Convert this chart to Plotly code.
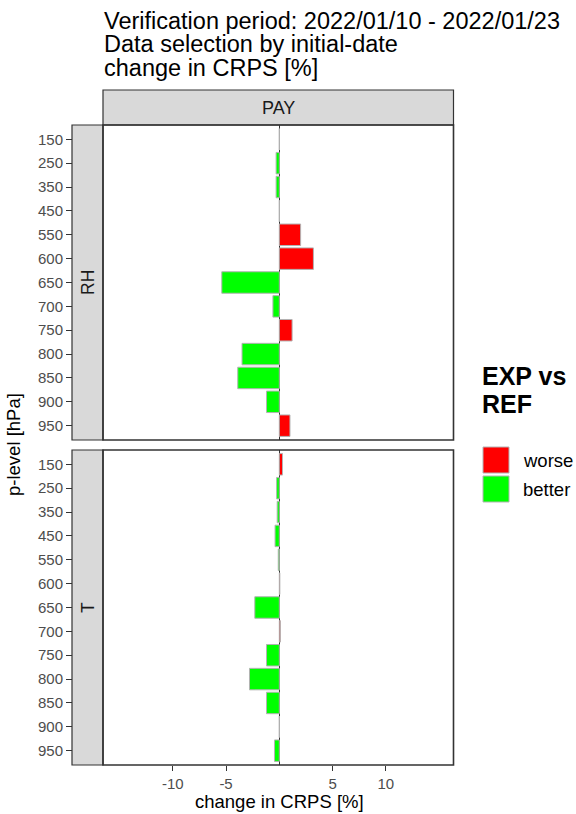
import plotly.graph_objects as go

# ---------------- data ----------------
levels = ["150", "250", "350", "450", "550", "600", "650",
          "700", "750", "800", "850", "900", "950"]
rh_change = [0.0, -0.3, -0.3, 0.0, 2.0, 3.2, -5.4, -0.6, 1.2, -3.5, -3.9, -1.2, 1.0]
t_change = [0.3, -0.25, -0.2, -0.4, -0.1, 0.05, -2.3, 0.1, -1.2, -2.8, -1.2, 0.0, -0.45]
x_ticks = [-10, -5, 5, 10]
x_tick_labels = ["-10", "-5", "5", "10"]
panels = ["RH", "T"]
column = "PAY"
legend_labels = ["worse", "better"]
colors = {"worse": "#FF0000", "better": "#00FF00"}

title_lines = ["Verification period: 2022/01/10 - 2022/01/23",
               "Data selection by initial-date",
               "change in CRPS [%]"]

# ---------------- layout constants (pixels) ----------------
W, H = 576, 814
FONT = "Liberation Sans, Arial, sans-serif"


def px(x):
    return x / W


def py(y):
    return 1 - y / H


PL, PR = 103, 453.5          # panel left/right
STRIP_L = 72                 # left strip left edge
TOP = (125, 440)             # top panel y (px)
BOT = (450, 765)             # bottom panel y (px)

fig = go.Figure()


def bar_colors(vals):
    return [colors["worse"] if v > 0 else colors["better"] for v in vals]


for vals, xa, ya in [(rh_change, "x", "y"), (t_change, "x2", "y2")]:
    fig.add_trace(go.Bar(
        x=vals, y=levels, orientation="h", xaxis=xa, yaxis=ya,
        width=0.9,
        marker=dict(color=bar_colors(vals), line=dict(color="#b3b3b3", width=1)),
        showlegend=False, hoverinfo="x+y",
    ))

xrange = [-16.55, 16.35]
common_x = dict(range=xrange, showgrid=False, zeroline=True,
                zerolinecolor="#333333", zerolinewidth=1,
                tickvals=x_ticks, ticktext=x_tick_labels,
                domain=[px(PL), px(PR)], fixedrange=True)
common_y = dict(type="category", categoryarray=levels, categoryorder="array",
                range=[12.6, -0.6], showgrid=False, zeroline=False,
                anchor="free", position=px(STRIP_L),
                ticks="outside", ticklen=6, tickcolor="#333333", tickwidth=1,
                tickfont=dict(family=FONT, size=15, color="#4d4d4d"),
                showline=False, fixedrange=True)

fig.update_layout(
    width=W, height=H, margin=dict(l=0, r=0, t=0, b=0),
    paper_bgcolor="white", plot_bgcolor="white",
    barmode="overlay", showlegend=False,
    xaxis=dict(**common_x, anchor="y", showticklabels=False, ticks=""),
    yaxis=dict(**common_y, domain=[py(TOP[1]), py(TOP[0])]),
    xaxis2=dict(**common_x, anchor="y2", matches="x", ticks="outside", ticklen=5,
                tickcolor="#333333", tickwidth=1,
                tickfont=dict(family=FONT, size=15, color="#4d4d4d")),
    yaxis2=dict(**common_y, domain=[py(BOT[1]), py(BOT[0])]),
)

shapes = []
annotations = []

# panel borders and left strips
for (y0, y1) in [TOP, BOT]:
    shapes.append(dict(type="rect", xref="paper", yref="paper",
                       x0=px(PL), x1=px(PR), y0=py(y1), y1=py(y0),
                       line=dict(color="#333333", width=1.6), fillcolor="rgba(0,0,0,0)",
                       layer="above"))
    shapes.append(dict(type="rect", xref="paper", yref="paper",
                       x0=px(STRIP_L), x1=px(PL), y0=py(y1), y1=py(y0),
                       line=dict(color="#333333", width=1.2), fillcolor="#d9d9d9",
                       layer="below"))

# top strip
shapes.append(dict(type="rect", xref="paper", yref="paper",
                   x0=px(PL), x1=px(PR), y0=py(125), y1=py(90),
                   line=dict(color="#333333", width=1.2), fillcolor="#d9d9d9",
                   layer="below"))
annotations.append(dict(text=column, x=px((PL + PR) / 2), y=py(107.5), xref="paper", yref="paper",
                        showarrow=False, xanchor="center", yanchor="middle",
                        font=dict(family=FONT, size=18, color="#1a1a1a")))

for name, (y0, y1) in zip(panels, [TOP, BOT]):
    annotations.append(dict(text=name, x=px((STRIP_L + PL) / 2), y=py((y0 + y1) / 2),
                            xref="paper", yref="paper", showarrow=False,
                            textangle=-90, xanchor="center", yanchor="middle",
                            font=dict(family=FONT, size=17.5, color="#1a1a1a")))

# title lines
for i, line in enumerate(title_lines):
    annotations.append(dict(text=line, x=px(102), y=py(20.5 + 24 * i), xref="paper", yref="paper",
                            showarrow=False, xanchor="left", yanchor="middle",
                            font=dict(family=FONT, size=23.5, color="#000000")))

# axis titles
annotations.append(dict(text="change in CRPS [%]", x=px(279), y=py(801), xref="paper", yref="paper",
                        showarrow=False, xanchor="center", yanchor="middle",
                        font=dict(family=FONT, size=18.5, color="#000000")))
annotations.append(dict(text="p-level [hPa]", x=px(13), y=py(445), xref="paper", yref="paper",
                        showarrow=False, textangle=-90, xanchor="center", yanchor="middle",
                        font=dict(family=FONT, size=18.5, color="#000000")))

# legend (manual)
annotations.append(dict(text="<b>EXP vs</b>", x=px(480), y=py(376), xref="paper", yref="paper",
                        showarrow=False, xanchor="left", yanchor="middle",
                        font=dict(family=FONT, size=25, color="#000000")))
annotations.append(dict(text="<b>REF</b>", x=px(480), y=py(404), xref="paper", yref="paper",
                        showarrow=False, xanchor="left", yanchor="middle",
                        font=dict(family=FONT, size=25, color="#000000")))
for i, lab in enumerate(legend_labels):
    y0 = 447 + 29 * i
    shapes.append(dict(type="rect", xref="paper", yref="paper",
                       x0=px(483), x1=px(509), y0=py(y0 + 26), y1=py(y0),
                       line=dict(color="#b3b3b3", width=1), fillcolor=colors[lab]))
    annotations.append(dict(text=lab, x=px(521), y=py(y0 + 13), xref="paper", yref="paper",
                            showarrow=False, xanchor="left", yanchor="middle",
                            font=dict(family=FONT, size=18.5, color="#000000")))

fig.update_layout(shapes=shapes, annotations=annotations)
fig.write_html("out.html")
